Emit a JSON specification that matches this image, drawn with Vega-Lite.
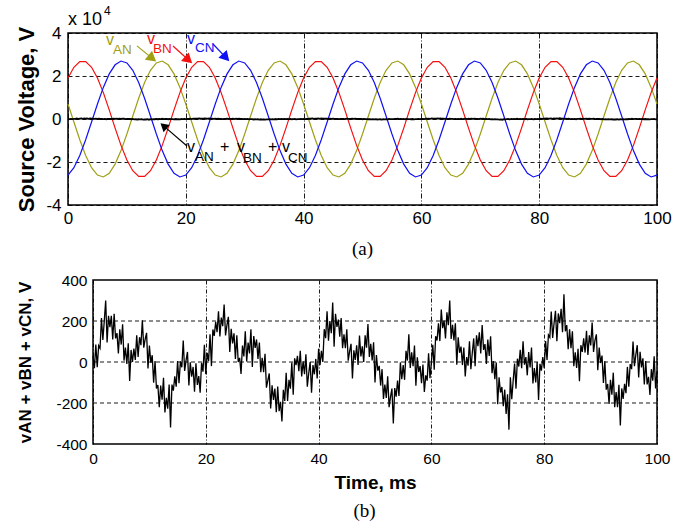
{
  "$schema": "https://vega.github.io/schema/vega-lite/v6.json",
  "padding": {"left": 15, "top": 4, "right": 0, "bottom": 0},
  "spacing": 13,
  "config": {
    "view": {"stroke": "black", "strokeWidth": 1.5},
    "font": "Liberation Sans",
    "axis": {"labelFont": "Liberation Sans", "titleFont": "Liberation Sans", "labelColor": "black", "titleColor": "black", "gridColor": "black", "gridOpacity": 1, "gridWidth": 0.9, "domain": false, "ticks": false, "labelFlush": false, "labelOverlap": false},
    "title": {"font": "Liberation Serif", "fontWeight": "normal", "color": "black"}
  },
  "datasets": {
    "volt": [
      {"t":0,"a":6990,"b":19090,"c":-26080},{"t":1,"a":-1410,"b":24060,"c":-22640},{"t":2,"a":-9680,"b":26670,"c":-16990},{"t":3,"a":-16990,"b":26670,"c":-9680},{"t":4,"a":-22640,"b":24060,"c":-1410},{"t":5,"a":-26080,"b":19090,"c":6990},{"t":6,"a":-26960,"b":12260,"c":14700},{"t":7,"a":-25210,"b":4220,"c":20980},{"t":8,"a":-20980,"b":-4220,"c":25210},{"t":9,"a":-14700,"b":-12260,"c":26960},
      {"t":10,"a":-6990,"b":-19090,"c":26080},{"t":11,"a":1410,"b":-24060,"c":22640},{"t":12,"a":9680,"b":-26670,"c":16990},{"t":13,"a":16990,"b":-26670,"c":9680},{"t":14,"a":22640,"b":-24060,"c":1410},{"t":15,"a":26080,"b":-19090,"c":-6990},{"t":16,"a":26960,"b":-12260,"c":-14700},{"t":17,"a":25210,"b":-4220,"c":-20980},{"t":18,"a":20980,"b":4220,"c":-25210},{"t":19,"a":14700,"b":12260,"c":-26960},
      {"t":20,"a":6990,"b":19090,"c":-26080},{"t":21,"a":-1410,"b":24060,"c":-22640},{"t":22,"a":-9680,"b":26670,"c":-16990},{"t":23,"a":-16990,"b":26670,"c":-9680},{"t":24,"a":-22640,"b":24060,"c":-1410},{"t":25,"a":-26080,"b":19090,"c":6990},{"t":26,"a":-26960,"b":12260,"c":14700},{"t":27,"a":-25210,"b":4220,"c":20980},{"t":28,"a":-20980,"b":-4220,"c":25210},{"t":29,"a":-14700,"b":-12260,"c":26960},
      {"t":30,"a":-6990,"b":-19090,"c":26080},{"t":31,"a":1410,"b":-24060,"c":22640},{"t":32,"a":9680,"b":-26670,"c":16990},{"t":33,"a":16990,"b":-26670,"c":9680},{"t":34,"a":22640,"b":-24060,"c":1410},{"t":35,"a":26080,"b":-19090,"c":-6990},{"t":36,"a":26960,"b":-12260,"c":-14700},{"t":37,"a":25210,"b":-4220,"c":-20980},{"t":38,"a":20980,"b":4220,"c":-25210},{"t":39,"a":14700,"b":12260,"c":-26960},
      {"t":40,"a":6990,"b":19090,"c":-26080},{"t":41,"a":-1410,"b":24060,"c":-22640},{"t":42,"a":-9680,"b":26670,"c":-16990},{"t":43,"a":-16990,"b":26670,"c":-9680},{"t":44,"a":-22640,"b":24060,"c":-1410},{"t":45,"a":-26080,"b":19090,"c":6990},{"t":46,"a":-26960,"b":12260,"c":14700},{"t":47,"a":-25210,"b":4220,"c":20980},{"t":48,"a":-20980,"b":-4220,"c":25210},{"t":49,"a":-14700,"b":-12260,"c":26960},
      {"t":50,"a":-6990,"b":-19090,"c":26080},{"t":51,"a":1410,"b":-24060,"c":22640},{"t":52,"a":9680,"b":-26670,"c":16990},{"t":53,"a":16990,"b":-26670,"c":9680},{"t":54,"a":22640,"b":-24060,"c":1410},{"t":55,"a":26080,"b":-19090,"c":-6990},{"t":56,"a":26960,"b":-12260,"c":-14700},{"t":57,"a":25210,"b":-4220,"c":-20980},{"t":58,"a":20980,"b":4220,"c":-25210},{"t":59,"a":14700,"b":12260,"c":-26960},
      {"t":60,"a":6990,"b":19090,"c":-26080},{"t":61,"a":-1410,"b":24060,"c":-22640},{"t":62,"a":-9680,"b":26670,"c":-16990},{"t":63,"a":-16990,"b":26670,"c":-9680},{"t":64,"a":-22640,"b":24060,"c":-1410},{"t":65,"a":-26080,"b":19090,"c":6990},{"t":66,"a":-26960,"b":12260,"c":14700},{"t":67,"a":-25210,"b":4220,"c":20980},{"t":68,"a":-20980,"b":-4220,"c":25210},{"t":69,"a":-14700,"b":-12260,"c":26960},
      {"t":70,"a":-6990,"b":-19090,"c":26080},{"t":71,"a":1410,"b":-24060,"c":22640},{"t":72,"a":9680,"b":-26670,"c":16990},{"t":73,"a":16990,"b":-26670,"c":9680},{"t":74,"a":22640,"b":-24060,"c":1410},{"t":75,"a":26080,"b":-19090,"c":-6990},{"t":76,"a":26960,"b":-12260,"c":-14700},{"t":77,"a":25210,"b":-4220,"c":-20980},{"t":78,"a":20980,"b":4220,"c":-25210},{"t":79,"a":14700,"b":12260,"c":-26960},
      {"t":80,"a":6990,"b":19090,"c":-26080},{"t":81,"a":-1410,"b":24060,"c":-22640},{"t":82,"a":-9680,"b":26670,"c":-16990},{"t":83,"a":-16990,"b":26670,"c":-9680},{"t":84,"a":-22640,"b":24060,"c":-1410},{"t":85,"a":-26080,"b":19090,"c":6990},{"t":86,"a":-26960,"b":12260,"c":14700},{"t":87,"a":-25210,"b":4220,"c":20980},{"t":88,"a":-20980,"b":-4220,"c":25210},{"t":89,"a":-14700,"b":-12260,"c":26960},
      {"t":90,"a":-6990,"b":-19090,"c":26080},{"t":91,"a":1410,"b":-24060,"c":22640},{"t":92,"a":9680,"b":-26670,"c":16990},{"t":93,"a":16990,"b":-26670,"c":9680},{"t":94,"a":22640,"b":-24060,"c":1410},{"t":95,"a":26080,"b":-19090,"c":-6990},{"t":96,"a":26960,"b":-12260,"c":-14700},{"t":97,"a":25210,"b":-4220,"c":-20980},{"t":98,"a":20980,"b":4220,"c":-25210},{"t":99,"a":14700,"b":12260,"c":-26960},
      {"t":100,"a":6990,"b":19090,"c":-26080}
    ],
    "sum": [
      {"t":0,"v":30},{"t":0.25,"v":-30},{"t":0.5,"v":85},{"t":0.75,"v":-25},
      {"t":1,"v":80},{"t":1.25,"v":67},{"t":1.5,"v":215},{"t":1.75,"v":107},
      {"t":2,"v":200},{"t":2.25,"v":300},{"t":2.5,"v":95},{"t":2.75,"v":225},
      {"t":3,"v":170},{"t":3.25,"v":225},{"t":3.5,"v":110},{"t":3.75,"v":235},
      {"t":4,"v":115},{"t":4.25,"v":141},{"t":4.5,"v":42},{"t":4.75,"v":159},
      {"t":5,"v":85},{"t":5.25,"v":184},{"t":5.5,"v":7},{"t":5.75,"v":71},
      {"t":6,"v":-10},{"t":6.25,"v":91},{"t":6.5,"v":-93},{"t":6.75,"v":59},
      {"t":7,"v":0},{"t":7.25,"v":65},{"t":7.5,"v":10},{"t":7.75,"v":130},
      {"t":8,"v":25},{"t":8.25,"v":121},{"t":8.5,"v":82},{"t":8.75,"v":204},
      {"t":9,"v":70},{"t":9.25,"v":111},{"t":9.5,"v":142},{"t":9.75,"v":-31},
      {"t":10,"v":80},{"t":10.25,"v":-4},{"t":10.5,"v":33},{"t":10.75,"v":-101},
      {"t":11,"v":5},{"t":11.25,"v":-129},{"t":11.5,"v":-112},{"t":11.75,"v":-221},
      {"t":12,"v":-115},{"t":12.25,"v":-184},{"t":12.5,"v":-77},{"t":12.75,"v":-246},
      {"t":13,"v":-175},{"t":13.25,"v":-228},{"t":13.5,"v":-110},{"t":13.75,"v":-320},
      {"t":14,"v":-110},{"t":14.25,"v":-140},{"t":14.5,"v":-70},{"t":14.75,"v":-120},
      {"t":15,"v":5},{"t":15.25,"v":-104},{"t":15.5,"v":3},{"t":15.75,"v":-26},
      {"t":16,"v":105},{"t":16.25,"v":-44},{"t":16.5,"v":8},{"t":16.75,"v":49},
      {"t":17,"v":-115},{"t":17.25,"v":-1},{"t":17.5,"v":-72},{"t":17.75,"v":-24},
      {"t":18,"v":-145},{"t":18.25,"v":-6},{"t":18.5,"v":-112},{"t":18.75,"v":-69},
      {"t":19,"v":-150},{"t":19.25,"v":-4},{"t":19.5,"v":-47},{"t":19.75,"v":84},
      {"t":20,"v":-60},{"t":20.25,"v":45},{"t":20.5,"v":5},{"t":20.75,"v":135},
      {"t":21,"v":-20},{"t":21.25,"v":159},{"t":21.5,"v":127},{"t":21.75,"v":196},
      {"t":22,"v":145},{"t":22.25,"v":247},{"t":22.5,"v":125},{"t":22.75,"v":217},
      {"t":23,"v":175},{"t":23.25,"v":280},{"t":23.5,"v":130},{"t":23.75,"v":180},
      {"t":24,"v":220},{"t":24.25,"v":49},{"t":24.5,"v":162},{"t":24.75,"v":91},
      {"t":25,"v":140},{"t":25.25,"v":15},{"t":25.5,"v":130},{"t":25.75,"v":0},
      {"t":26,"v":20},{"t":26.25,"v":-58},{"t":26.5,"v":80},{"t":26.75,"v":27},
      {"t":27,"v":150},{"t":27.25,"v":2},{"t":27.5,"v":95},{"t":27.75,"v":42},
      {"t":28,"v":160},{"t":28.25,"v":-24},{"t":28.5,"v":127},{"t":28.75,"v":69},
      {"t":29,"v":110},{"t":29.25,"v":15},{"t":29.5,"v":95},{"t":29.75,"v":-50},
      {"t":30,"v":20},{"t":30.25,"v":-50},{"t":30.5,"v":40},{"t":30.75,"v":-125},
      {"t":31,"v":-90},{"t":31.25,"v":-56},{"t":31.5,"v":-227},{"t":31.75,"v":-114},
      {"t":32,"v":-185},{"t":32.25,"v":-130},{"t":32.5,"v":-245},{"t":32.75,"v":-120},
      {"t":33,"v":-240},{"t":33.25,"v":-194},{"t":33.5,"v":-290},{"t":33.75,"v":-136},
      {"t":34,"v":-190},{"t":34.25,"v":-52},{"t":34.5,"v":-190},{"t":34.75,"v":-87},
      {"t":35,"v":-130},{"t":35.25,"v":-2},{"t":35.5,"v":-160},{"t":35.75,"v":18},
      {"t":36,"v":-15},{"t":36.25,"v":30},{"t":36.5,"v":-45},{"t":36.75,"v":55},
      {"t":37,"v":-70},{"t":37.25,"v":3},{"t":37.5,"v":-60},{"t":37.75,"v":38},
      {"t":38,"v":-120},{"t":38.25,"v":-55},{"t":38.5,"v":0},{"t":38.75,"v":-150},
      {"t":39,"v":-15},{"t":39.25,"v":-60},{"t":39.5,"v":15},{"t":39.75,"v":-80},
      {"t":40,"v":65},{"t":40.25,"v":-15},{"t":40.5,"v":55},{"t":40.75,"v":0},
      {"t":41,"v":160},{"t":41.25,"v":116},{"t":41.5,"v":247},{"t":41.75,"v":104},
      {"t":42,"v":200},{"t":42.25,"v":140},{"t":42.5,"v":290},{"t":42.75,"v":75},
      {"t":43,"v":235},{"t":43.25,"v":171},{"t":43.5,"v":207},{"t":43.75,"v":124},
      {"t":44,"v":215},{"t":44.25,"v":67},{"t":44.5,"v":135},{"t":44.75,"v":67},
      {"t":45,"v":160},{"t":45.25,"v":6},{"t":45.5,"v":52},{"t":45.75,"v":89},
      {"t":46,"v":-80},{"t":46.25,"v":57},{"t":46.5,"v":10},{"t":46.75,"v":82},
      {"t":47,"v":-15},{"t":47.25,"v":129},{"t":47.5,"v":27},{"t":47.75,"v":76},
      {"t":48,"v":0},{"t":48.25,"v":130},{"t":48.5,"v":70},{"t":48.75,"v":185},
      {"t":49,"v":25},{"t":49.25,"v":89},{"t":49.5,"v":7},{"t":49.75,"v":96},
      {"t":50,"v":-100},{"t":50.25,"v":34},{"t":50.5,"v":-42},{"t":50.75,"v":-19},
      {"t":51,"v":-115},{"t":51.25,"v":-35},{"t":51.5,"v":-180},{"t":51.75,"v":-110},
      {"t":52,"v":-175},{"t":52.25,"v":-70},{"t":52.5,"v":-220},{"t":52.75,"v":-170},
      {"t":53,"v":-130},{"t":53.25,"v":-300},{"t":53.5,"v":-127},{"t":53.75,"v":-169},
      {"t":54,"v":-90},{"t":54.25,"v":-166},{"t":54.5,"v":-2},{"t":54.75,"v":-84},
      {"t":55,"v":-15},{"t":55.25,"v":-87},{"t":55.5,"v":55},{"t":55.75,"v":7},
      {"t":56,"v":135},{"t":56.25,"v":-29},{"t":56.5,"v":47},{"t":56.75,"v":-21},
      {"t":57,"v":80},{"t":57.25,"v":-116},{"t":57.5,"v":23},{"t":57.75,"v":-49},
      {"t":58,"v":-20},{"t":58.25,"v":-104},{"t":58.5,"v":-12},{"t":58.75,"v":-146},
      {"t":59,"v":-65},{"t":59.25,"v":-91},{"t":59.5,"v":43},{"t":59.75,"v":-79},
      {"t":60,"v":0},{"t":60.25,"v":84},{"t":60.5,"v":-38},{"t":60.75,"v":126},
      {"t":61,"v":105},{"t":61.25,"v":189},{"t":61.5,"v":102},{"t":61.75,"v":256},
      {"t":62,"v":165},{"t":62.25,"v":202},{"t":62.5,"v":115},{"t":62.75,"v":242},
      {"t":63,"v":180},{"t":63.25,"v":300},{"t":63.5,"v":112},{"t":63.75,"v":181},
      {"t":64,"v":105},{"t":64.25,"v":189},{"t":64.5,"v":-13},{"t":64.75,"v":121},
      {"t":65,"v":45},{"t":65.25,"v":75},{"t":65.5,"v":-15},{"t":65.75,"v":70},
      {"t":66,"v":-70},{"t":66.25,"v":24},{"t":66.5,"v":-18},{"t":66.75,"v":101},
      {"t":67,"v":-35},{"t":67.25,"v":45},{"t":67.5,"v":115},{"t":67.75,"v":-20},
      {"t":68,"v":130},{"t":68.25,"v":77},{"t":68.5,"v":145},{"t":68.75,"v":42},
      {"t":69,"v":180},{"t":69.25,"v":59},{"t":69.5,"v":87},{"t":69.75,"v":-9},
      {"t":70,"v":110},{"t":70.25,"v":30},{"t":70.5,"v":125},{"t":70.75,"v":-55},
      {"t":71,"v":5},{"t":71.25,"v":-84},{"t":71.5,"v":-2},{"t":71.75,"v":-206},
      {"t":72,"v":-75},{"t":72.25,"v":-149},{"t":72.5,"v":-122},{"t":72.75,"v":-216},
      {"t":73,"v":-135},{"t":73.25,"v":-254},{"t":73.5,"v":-157},{"t":73.75,"v":-330},
      {"t":74,"v":-75},{"t":74.25,"v":-182},{"t":74.5,"v":-90},{"t":74.75,"v":-7},
      {"t":75,"v":-130},{"t":75.25,"v":16},{"t":75.5,"v":-22},{"t":75.75,"v":59},
      {"t":76,"v":-30},{"t":76.25,"v":101},{"t":76.5,"v":-13},{"t":76.75,"v":24},
      {"t":77,"v":-65},{"t":77.25,"v":49},{"t":77.5,"v":-27},{"t":77.75,"v":71},
      {"t":78,"v":-105},{"t":78.25,"v":-30},{"t":78.5,"v":-100},{"t":78.75,"v":0},
      {"t":79,"v":-185},{"t":79.25,"v":-9},{"t":79.5,"v":-42},{"t":79.75,"v":24},
      {"t":80,"v":-30},{"t":80.25,"v":102},{"t":80.5,"v":10},{"t":80.75,"v":132},
      {"t":81,"v":120},{"t":81.25,"v":246},{"t":81.5,"v":117},{"t":81.75,"v":189},
      {"t":82,"v":250},{"t":82.25,"v":101},{"t":82.5,"v":237},{"t":82.75,"v":189},
      {"t":83,"v":260},{"t":83.25,"v":145},{"t":83.5,"v":330},{"t":83.75,"v":150},
      {"t":84,"v":180},{"t":84.25,"v":62},{"t":84.5,"v":160},{"t":84.75,"v":67},
      {"t":85,"v":150},{"t":85.25,"v":-21},{"t":85.5,"v":47},{"t":85.75,"v":-29},
      {"t":86,"v":65},{"t":86.25,"v":-94},{"t":86.5,"v":82},{"t":86.75,"v":49},
      {"t":87,"v":115},{"t":87.25,"v":46},{"t":87.5,"v":152},{"t":87.75,"v":34},
      {"t":88,"v":130},{"t":88.25,"v":81},{"t":88.5,"v":192},{"t":88.75,"v":49},
      {"t":89,"v":105},{"t":89.25,"v":135},{"t":89.5,"v":-40},{"t":89.75,"v":70},
      {"t":90,"v":-5},{"t":90.25,"v":31},{"t":90.5,"v":-102},{"t":90.75,"v":4},
      {"t":91,"v":-135},{"t":91.25,"v":-107},{"t":91.5,"v":-205},{"t":91.75,"v":-87},
      {"t":92,"v":-160},{"t":92.25,"v":-52},{"t":92.5,"v":-220},{"t":92.75,"v":-147},
      {"t":93,"v":-220},{"t":93.25,"v":-111},{"t":93.5,"v":-310},{"t":93.75,"v":-129},
      {"t":94,"v":-180},{"t":94.25,"v":-106},{"t":94.5,"v":-152},{"t":94.75,"v":-24},
      {"t":95,"v":-120},{"t":95.25,"v":-10},{"t":95.5,"v":-35},{"t":95.75,"v":100},
      {"t":96,"v":-20},{"t":96.25,"v":36},{"t":96.5,"v":82},{"t":96.75,"v":-76},
      {"t":97,"v":50},{"t":97.25,"v":-26},{"t":97.5,"v":18},{"t":97.75,"v":-109},
      {"t":98,"v":5},{"t":98.25,"v":-109},{"t":98.5,"v":-72},{"t":98.75,"v":-161},
      {"t":99,"v":-35},{"t":99.25,"v":-91},{"t":99.5,"v":28},{"t":99.75,"v":-129},
      {"t":100,"v":-45}
    ],
    "ann": [
      {"kind":"exp","t":0,"v":40000,"txt":"x 10","ph":"s"},
      {"kind":"sup","t":0,"v":40000,"txt":"4","ph":"s"},
      {"kind":"main","t":6.45,"v":34400,"txt":"v","ph":"a"},
      {"kind":"sub","t":7.64,"v":30200,"txt":"AN","ph":"a"},
      {"kind":"main","t":13.41,"v":34900,"txt":"v","ph":"b"},
      {"kind":"sub","t":14.43,"v":30700,"txt":"BN","ph":"b"},
      {"kind":"main","t":20.2,"v":34900,"txt":"v","ph":"c"},
      {"kind":"sub","t":21.56,"v":31200,"txt":"CN","ph":"c"},
      {"kind":"main","t":20.2,"v":-15350,"txt":"v","ph":"s"},
      {"kind":"sub","t":21.56,"v":-19530,"txt":"AN","ph":"s"},
      {"kind":"main","t":25.81,"v":-15350,"txt":"+","ph":"s"},
      {"kind":"main","t":28.69,"v":-15350,"txt":"v","ph":"s"},
      {"kind":"sub","t":29.71,"v":-20000,"txt":"BN","ph":"s"},
      {"kind":"main","t":33.96,"v":-15350,"txt":"+","ph":"s"},
      {"kind":"main","t":36.33,"v":-15350,"txt":"v","ph":"s"},
      {"kind":"sub","t":37.35,"v":-20000,"txt":"CN","ph":"s"}
    ],
    "arr": [
      {"ph":"a","t":11.7,"v":34000,"t2":14.31,"v2":28200},
      {"ph":"b","t":17.83,"v":33950,"t2":20.46,"v2":27440},
      {"ph":"c","t":24.62,"v":34880,"t2":26.81,"v2":28560},
      {"ph":"s","t":20.2,"v":-12560,"t2":16.23,"v2":-3210}
    ],
    "heads": [
      {"ph":"a","t":14.31,"v":28200},
      {"ph":"b","t":20.46,"v":27440},
      {"ph":"c","t":26.81,"v":28560},
      {"ph":"s","t":16.23,"v":-3210}
    ],
    "frameB": [
      {"t0":0,"t1":100,"v0":-400,"v1":400}
    ],
    "gridB": [
      {"t0":0,"t1":100,"v":-200},
      {"t0":0,"t1":100,"v":0},
      {"t0":0,"t1":100,"v":200}
    ]
  },
  "vconcat": [
    {
      "width": 589,
      "height": 172,
      "title": {"text": "(a)", "orient": "bottom", "frame": "group", "anchor": "middle", "fontSize": 19, "offset": 14},
      "encoding": {
        "x": {"field": "t", "type": "quantitative", "scale": {"domain": [0, 100], "nice": false},
              "axis": {"title": null, "values": [0, 20, 40, 60, 80, 100], "labelFontSize": 17, "labelPadding": 5, "grid": true, "gridDash": [5, 2, 1, 2]}},
        "y": {"field": "v", "type": "quantitative", "scale": {"domain": [-40000, 40000], "nice": false},
              "axis": {"title": "Source Voltage, V", "titleFontSize": 22, "titleFontWeight": "bold", "titlePadding": 7, "values": [-40000, -20000, 0, 20000, 40000], "labelExpr": "'' + (datum.value / 10000)", "labelFontSize": 17, "labelPadding": 7, "grid": true, "gridDash": [4, 3]}},
        "color": {"field": "ph", "type": "nominal", "scale": {"domain": ["a", "b", "c", "s"], "range": ["#9f9f14", "#f50f0f", "#1010f5", "#000000"]}, "legend": null}
      },
      "layer": [
        {"data": {"name": "volt"}, "transform": [{"fold": ["a", "b", "c"], "as": ["ph", "v"]}], "mark": {"type": "line", "strokeWidth": 1.2}},
        {"data": {"name": "sum"}, "mark": {"type": "line", "strokeWidth": 1.8}, "encoding": {"color": {"value": "black"}}},
        {"data": {"name": "ann"}, "transform": [{"filter": "datum.kind == 'main'"}], "mark": {"type": "text", "align": "left", "baseline": "alphabetic", "fontSize": 16}, "encoding": {"text": {"field": "txt"}}},
        {"data": {"name": "ann"}, "transform": [{"filter": "datum.kind == 'sub'"}], "mark": {"type": "text", "align": "left", "baseline": "alphabetic", "fontSize": 13.5}, "encoding": {"text": {"field": "txt"}}},
        {"data": {"name": "ann"}, "transform": [{"filter": "datum.kind == 'exp'"}], "mark": {"type": "text", "align": "left", "baseline": "alphabetic", "fontSize": 18, "dy": -8}, "encoding": {"text": {"field": "txt"}, "color": {"value": "black"}}},
        {"data": {"name": "ann"}, "transform": [{"filter": "datum.kind == 'sup'"}], "mark": {"type": "text", "align": "left", "baseline": "alphabetic", "fontSize": 12, "dx": 36, "dy": -18}, "encoding": {"text": {"field": "txt"}, "color": {"value": "black"}}},
        {"data": {"name": "arr"}, "mark": {"type": "rule", "strokeWidth": 1.2}, "encoding": {"x2": {"field": "t2"}, "y2": {"field": "v2"}}},
        {"data": {"name": "heads"}, "transform": [{"filter": "datum.ph == 'a'"}], "mark": {"type": "point", "shape": "triangle-up", "filled": true, "opacity": 1, "size": 130, "angle": 129}},
        {"data": {"name": "heads"}, "transform": [{"filter": "datum.ph == 'b'"}], "mark": {"type": "point", "shape": "triangle-up", "filled": true, "opacity": 1, "size": 130, "angle": 132}},
        {"data": {"name": "heads"}, "transform": [{"filter": "datum.ph == 'c'"}], "mark": {"type": "point", "shape": "triangle-up", "filled": true, "opacity": 1, "size": 130, "angle": 137}},
        {"data": {"name": "heads"}, "transform": [{"filter": "datum.ph == 's'"}], "mark": {"type": "point", "shape": "triangle-up", "filled": true, "opacity": 1, "size": 90, "angle": 311}}
      ]
    },
    {
      "width": 589,
      "height": 164,
      "view": {"stroke": null},
      "title": {"text": "(b)", "orient": "bottom", "frame": "group", "anchor": "middle", "fontSize": 19, "offset": 9, "dx": 2},
      "encoding": {
        "x": {"field": "t", "type": "quantitative", "scale": {"domain": [0, 100], "range": [25, 589], "nice": false},
              "axis": {"title": "Time, ms", "titleFontSize": 19, "titleFontWeight": "bold", "titlePadding": 7, "values": [0, 20, 40, 60, 80, 100], "labelFontSize": 15.5, "labelPadding": 7, "grid": true, "gridDash": [4, 2, 1, 2]}},
        "y": {"field": "v", "type": "quantitative", "scale": {"domain": [-400, 400], "nice": false},
              "axis": {"title": "vAN + vBN + vCN, V", "titleFontSize": 17, "titleFontWeight": "bold", "titlePadding": 21, "offset": -25, "values": [-400, -200, 0, 200, 400], "labelExpr": "'' + datum.value", "labelFontSize": 15.5, "labelPadding": 6, "grid": false}}
      },
      "layer": [
        {"data": {"name": "gridB"}, "mark": {"type": "rule", "color": "black", "strokeWidth": 0.9, "strokeDash": [4, 3]}, "encoding": {"x": {"field": "t0", "type": "quantitative"}, "x2": {"field": "t1"}}},
        {"data": {"name": "sum"}, "mark": {"type": "line", "color": "black", "strokeWidth": 1.3}},
        {"data": {"name": "frameB"}, "mark": {"type": "rect", "filled": false, "stroke": "black", "strokeWidth": 1.5}, "encoding": {"x": {"field": "t0", "type": "quantitative"}, "x2": {"field": "t1"}, "y": {"field": "v0", "type": "quantitative"}, "y2": {"field": "v1"}}}
      ]
    }
  ]
}
